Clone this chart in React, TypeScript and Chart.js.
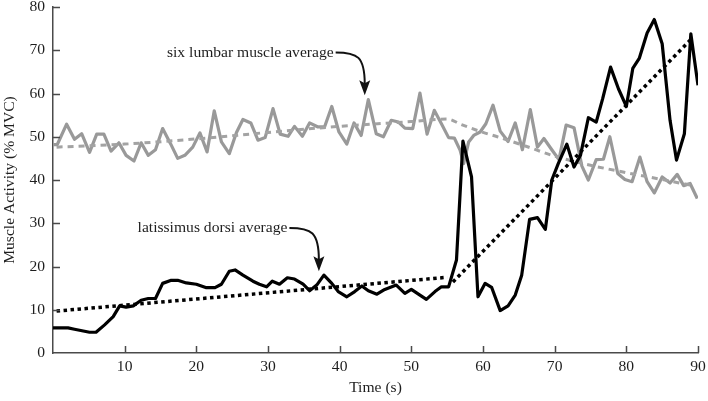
import React, { useEffect, useRef } from "react";
import { Chart, registerables } from "chart.js";
Chart.register(...registerables);

// ---- data ----
const lumbarTime = [0,0.6,1.9,3,4,5.1,6.1,7.1,8.1,9.2,10.2,11.3,12.3,13.3,14.3,15.3,16.4,17.4,18.4,19.5,20.5,21.5,22.5,23.5,24.6,25.6,26.5,27.6,28.6,29.6,30.7,31.7,32.8,33.7,34.8,35.8,36.9,37.9,38.9,39.9,41,42,43,44,45.1,46.1,47.2,48.2,49.1,50.2,51.2,52.2,53.2,54.2,55.2,56,56.8,57.3,58,58.7,59.6,60.4,61.4,62.4,63.5,64.5,65.5,66.6,67.6,68.5,69.6,70.6,71.6,72.7,73.8,74.7,75.8,76.8,77.7,78.8,79.8,80.8,81.9,82.9,83.9,85,86.1,87.1,88,88.9,89.9];
const lumbarValue = [48.2,48.2,52.9,49.4,50.7,46.4,50.6,50.6,46.7,48.6,45.7,44.4,48.6,45.7,47,51.9,48.4,45,45.7,47.6,50.9,46.5,56,48.8,46.1,51,54,53.2,49.2,49.8,56.5,50.6,50.1,52.4,50.1,53.2,52.3,52.3,57,51.1,48.3,53.2,50.3,58.6,50.7,50,53.8,53.4,52,51.9,60.1,50.6,56.1,53,49.8,49.7,46.9,43.8,48.8,50.3,51.1,53,57.3,51.3,48.9,53.2,47,56.3,47.6,49.6,47,44.7,52.7,52.1,43.2,40,44.7,44.8,50,41.5,40.1,39.6,45.3,39.6,37,40.7,39.3,41.3,38.7,39.2,35.7];

const latTime = [0,2.1,3,5.1,6,7.2,8.4,9.3,10.2,11.2,12.3,13.3,14.3,15.3,16.5,17.4,18.6,20,21.4,22.6,23.5,24.6,25.4,26.5,27.9,28.8,29.8,30.6,31.6,32.7,33.7,34.9,35.8,36.8,37.8,38.9,39.8,41,42.1,43.1,44,45.2,46.3,47.9,49.1,50,51.2,52.1,53.3,54.2,55.2,56.3,57.2,58.4,59.3,60.3,61.2,62.4,63.5,64.5,65.4,66.5,67.6,68.7,69.6,70.5,71.7,72.7,73.6,74.7,75.8,76.7,77.8,78.9,80,80.9,81.8,82.9,83.9,85,86.1,87,88.1,89,90];
const latValue = [5.8,5.8,5.5,4.8,4.8,6.5,8.4,10.9,10.6,10.9,12.2,12.6,12.6,16.1,16.8,16.8,16.2,15.9,15.1,15.1,15.9,18.9,19.2,18,16.6,15.9,15.3,16.6,15.9,17.4,17.1,15.9,14.4,15.7,18,16.1,14.2,13,14.2,15.5,14.4,13.6,14.7,15.7,13.8,14.7,13.4,12.4,14.2,15.3,15.3,21.5,49,40.7,13,16.1,15.2,9.8,10.9,13.4,18,30.9,31.3,28.6,40,43.8,48.3,43,45.7,54.4,53.4,58.8,66.1,61.1,57,65.8,68.1,74,77.1,71.5,53.8,44.6,50.7,73.8,61.9];

const lumbarTrendTime = [0.5,10,20,30,40,50,55,57,60,62,66,70,75,80,85,89];
const lumbarTrendValue = [47.6,48.3,49.5,51,52.4,53.5,54.1,52.8,51,50,47.8,45.5,43.4,41.7,40.1,38.8];

const latTrendEarlyTime = [0.5,55];
const latTrendEarlyValue = [9.7,17.5];
const latTrendLateTime = [55.8,89.3];
const latTrendLateValue = [16.4,73];

const xTickValues = [10,20,30,40,50,60,70,80,90];
const yTickValues = [10,20,30,40,50,60,70,80];

const xTitle = "Time (s)";
const yTitle = "Muscle Activity (% MVC)";
const lumbarLabel = "six lumbar muscle average";
const latLabel = "latissimus dorsi average";

// annotation anchors in data units: [time, value]
const lumbarLabelAt = [15.9, 69.5];
const lumbarArrowTip = [43.5, 59.6];
const latLabelAt = [11.8, 28.9];
const latArrowTip = [37.1, 18.9];

const FONT = '"Liberation Serif", "Times New Roman", serif';
const FS = 15.6;
const TEXT = "#1e1e1e";
const AXIS = "#4a4a4a";
const GRAY = "#999999";

const zip = (t: number[], v: number[]) => t.map((x, i) => ({ x, y: v[i] }));

const annotatePlugin = {
  id: "annotate",
  afterDraw(chart: any) {
    const { ctx, scales, chartArea } = chart;
    const xs = scales.x;
    const ys = scales.y;
    ctx.save();
    // inward ticks
    ctx.strokeStyle = AXIS;
    ctx.lineWidth = 1.5;
    ctx.beginPath();
    for (const v of yTickValues) {
      const py = Math.round(ys.getPixelForValue(v)) + 0.5;
      ctx.moveTo(chartArea.left, py);
      ctx.lineTo(chartArea.left + 7, py);
    }
    for (const v of xTickValues) {
      const px = Math.round(xs.getPixelForValue(v)) + 0.5;
      ctx.moveTo(px, chartArea.bottom);
      ctx.lineTo(px, chartArea.bottom - 7);
    }
    ctx.stroke();

    const note = (label: string, at: number[], tip: number[]) => {
      ctx.font = FS + "px " + FONT;
      ctx.fillStyle = TEXT;
      ctx.textBaseline = "middle";
      ctx.textAlign = "left";
      const lx = xs.getPixelForValue(at[0]);
      const ly = ys.getPixelForValue(at[1]);
      ctx.fillText(label, lx, ly);
      const w = ctx.measureText(label).width;
      const x0 = lx + w + 2;
      const y0 = ly;
      const tx = xs.getPixelForValue(tip[0]);
      const ty = ys.getPixelForValue(tip[1]);
      const headLen = 13;
      ctx.strokeStyle = "#111";
      ctx.lineWidth = 2;
      ctx.beginPath();
      ctx.moveTo(x0, y0);
      ctx.bezierCurveTo(x0 + (tx - x0) * 0.75, y0, tx, y0 + 4, tx, ty - headLen + 2);
      ctx.stroke();
      ctx.fillStyle = "#111";
      ctx.beginPath();
      ctx.moveTo(tx, ty);
      ctx.lineTo(tx - 5.5, ty - headLen - 2);
      ctx.lineTo(tx, ty - headLen + 1);
      ctx.lineTo(tx + 5.5, ty - headLen - 2);
      ctx.closePath();
      ctx.fill();
    };
    note(lumbarLabel, lumbarLabelAt, lumbarArrowTip);
    note(latLabel, latLabelAt, latArrowTip);
    ctx.restore();
  },
};

export default function App() {
  const ref = useRef<HTMLCanvasElement | null>(null);
  useEffect(() => {
    if (!ref.current) return;
    const chart = new Chart(ref.current, {
      type: "line",
      data: {
        datasets: [
          {
            label: "latissimus dorsi average",
            data: zip(latTime, latValue),
            borderColor: "#000",
            borderWidth: 3.2,
            pointRadius: 0,
            tension: 0,
            borderJoinStyle: "round",
            order: 1,
          },
          {
            label: "latissimus trend early",
            data: zip(latTrendEarlyTime, latTrendEarlyValue),
            borderColor: "#000",
            borderWidth: 3.5,
            borderDash: [3.5, 3.5],
            pointRadius: 0,
            order: 0,
          },
          {
            label: "latissimus trend late",
            data: zip(latTrendLateTime, latTrendLateValue),
            borderColor: "#000",
            borderWidth: 3.5,
            borderDash: [3.5, 3.5],
            pointRadius: 0,
            order: 0,
          },
          {
            label: "six lumbar muscle average",
            data: zip(lumbarTime, lumbarValue),
            borderColor: GRAY,
            borderWidth: 3.2,
            pointRadius: 0,
            tension: 0,
            borderJoinStyle: "round",
            order: 3,
          },
          {
            label: "lumbar trend",
            data: zip(lumbarTrendTime, lumbarTrendValue),
            borderColor: "#a3a3a3",
            borderWidth: 3,
            borderDash: [6, 5],
            pointRadius: 0,
            cubicInterpolationMode: "monotone",
            order: 2,
          },
        ],
      },
      options: {
        animation: false,
        responsive: false,
        layout: { padding: { top: 7, right: 10, left: 0, bottom: 0 } },
        plugins: { legend: { display: false }, tooltip: { enabled: false } },
        scales: {
          x: {
            type: "linear",
            min: 0,
            max: 90,
            afterFit: (s: any) => {
              s.height = 48;
              s.paddingLeft = 0;
              s.paddingRight = 0;
            },
            grid: { display: true, drawOnChartArea: false, drawTicks: false },
            border: { display: true, color: AXIS, width: 1.5 },
            ticks: {
              stepSize: 10,
              padding: 5,
              color: TEXT,
              font: { family: FONT, size: FS },
              callback: (v: any) => (v === 0 ? "" : String(v)),
              maxRotation: 0,
            },
            title: {
              display: true,
              text: xTitle,
              color: TEXT,
              font: { family: FONT, size: FS },
              padding: { top: 0, bottom: 4 },
            },
          },
          y: {
            type: "linear",
            min: 0,
            max: 80,
            afterFit: (s: any) => {
              s.width = 53;
              s.paddingTop = 0;
              s.paddingBottom = 0;
            },
            grid: { display: true, drawOnChartArea: false, drawTicks: false },
            border: { display: true, color: AXIS, width: 1.5 },
            ticks: {
              stepSize: 10,
              padding: 8,
              color: TEXT,
              font: { family: FONT, size: FS },
            },
            title: {
              display: true,
              text: yTitle,
              color: TEXT,
              font: { family: FONT, size: FS },
              padding: { top: 1, bottom: 0 },
            },
          },
        },
      },
      plugins: [annotatePlugin],
    } as any);
    return () => chart.destroy();
  }, []);
  return (
    <div style={{ position: "absolute", left: 0, top: 0, width: 708, height: 401, background: "#fff" }}>
      <canvas ref={ref} width={708} height={401} style={{ display: "block" }} />
    </div>
  );
}
